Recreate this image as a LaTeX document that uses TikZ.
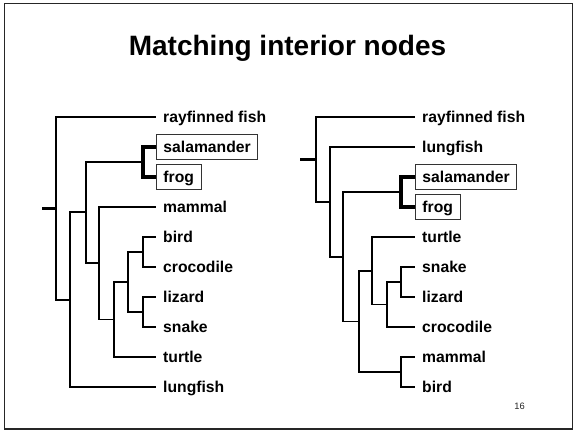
\documentclass[tikz,border=0pt]{standalone}
\usepackage{fontspec}
\setmainfont{Liberation Sans}
\begin{document}
\begin{tikzpicture}[x=1pt,y=-1pt,
  leaf/.style={anchor=west,inner xsep=7pt,inner ysep=6.9pt,text height=11.2pt,text depth=0pt,
    font=\fontsize{15.7}{18}\selectfont\bfseries},
  boxed/.style={draw=black!80,line width=0.9pt},
  br/.style={line width=1.8pt},
  stubline/.style={line width=2.3pt},
  hi/.style={line width=3.3pt}]
\useasboundingbox (0,0) rectangle (575,431);
\draw[line width=1.5pt,black!85] (4.5,3.5) rectangle (572.5,429);
\node[font=\fontsize{28}{32}\selectfont\bfseries,anchor=base] (title) at (287.5,55) {Matching interior nodes};
\node[font=\fontsize{9.3}{11}\selectfont,text=black!85] (pg) at (519.5,406) {16};

% ---------- left tree ----------
\node[leaf] (lrf) at (156,117) {rayfinned fish};
\node[leaf,boxed] (lsal) at (156,147) {salamander};
\node[leaf,boxed] (lfrog) at (156,177) {frog};
\node[leaf] (lmam) at (156,207) {mammal};
\node[leaf] (lbird) at (156,237) {bird};
\node[leaf] (lcroc) at (156,267) {crocodile};
\node[leaf] (lliz) at (156,297) {lizard};
\node[leaf] (lsnk) at (156,327) {snake};
\node[leaf] (ltur) at (156,357) {turtle};
\node[leaf] (llung) at (156,387) {lungfish};

\coordinate (lstub) at (42,208.5);
\coordinate (lR) at (56,208.5);
\coordinate (lA) at (70,300);
\coordinate (lB) at (86,212);
\coordinate (lSF) at (143,162);
\coordinate (lC) at (99,263.3);
\coordinate (lD) at (114,319.5);
\coordinate (lE) at (128,282);
\coordinate (lBC) at (143,252);
\coordinate (lLS) at (143,312);

\draw[stubline] (lstub) -- (lR);
\draw[br] (lR) |- (lrf.west);
\draw[br] (lR) |- (lA);
\draw[br] (lA) |- (lB);
\draw[br] (lA) |- (llung.west);
\draw[br] (lB) |- (lSF);
\draw[br] (lB) |- (lC);
\draw[hi] (lSF) |- (lsal.west);
\draw[hi] (lSF) |- (lfrog.west);
\draw[br] (lC) |- (lmam.west);
\draw[br] (lC) |- (lD);
\draw[br] (lD) |- (lE);
\draw[br] (lD) |- (ltur.west);
\draw[br] (lE) |- (lBC);
\draw[br] (lE) |- (lLS);
\draw[br] (lBC) |- (lbird.west);
\draw[br] (lBC) |- (lcroc.west);
\draw[br] (lLS) |- (lliz.west);
\draw[br] (lLS) |- (lsnk.west);

% ---------- right tree ----------
\node[leaf] (rrf) at (415,117) {rayfinned fish};
\node[leaf] (rlung) at (415,147) {lungfish};
\node[leaf,boxed] (rsal) at (415,177) {salamander};
\node[leaf,boxed] (rfrog) at (415,207) {frog};
\node[leaf] (rtur) at (415,237) {turtle};
\node[leaf] (rsnk) at (415,267) {snake};
\node[leaf] (rliz) at (415,297) {lizard};
\node[leaf] (rcroc) at (415,327) {crocodile};
\node[leaf] (rmam) at (415,357) {mammal};
\node[leaf] (rbird) at (415,387) {bird};

\coordinate (rstub) at (300,159.4);
\coordinate (rR) at (316,159.4);
\coordinate (rA) at (330,201.9);
\coordinate (rB) at (343,256.7);
\coordinate (rSF) at (401,192);
\coordinate (rC) at (359,321.4);
\coordinate (rD) at (372,270.8);
\coordinate (rE) at (387,304.5);
\coordinate (rSL) at (401,282);
\coordinate (rMB) at (401,372);

\draw[stubline] (rstub) -- (rR);
\draw[br] (rR) |- (rrf.west);
\draw[br] (rR) |- (rA);
\draw[br] (rA) |- (rlung.west);
\draw[br] (rA) |- (rB);
\draw[br] (rB) |- (rSF);
\draw[br] (rB) |- (rC);
\draw[hi] (rSF) |- (rsal.west);
\draw[hi] (rSF) |- (rfrog.west);
\draw[br] (rC) |- (rD);
\draw[br] (rC) |- (rMB);
\draw[br] (rD) |- (rtur.west);
\draw[br] (rD) |- (rE);
\draw[br] (rE) |- (rSL);
\draw[br] (rE) |- (rcroc.west);
\draw[br] (rSL) |- (rsnk.west);
\draw[br] (rSL) |- (rliz.west);
\draw[br] (rMB) |- (rmam.west);
\draw[br] (rMB) |- (rbird.west);
\end{tikzpicture}
\end{document}
